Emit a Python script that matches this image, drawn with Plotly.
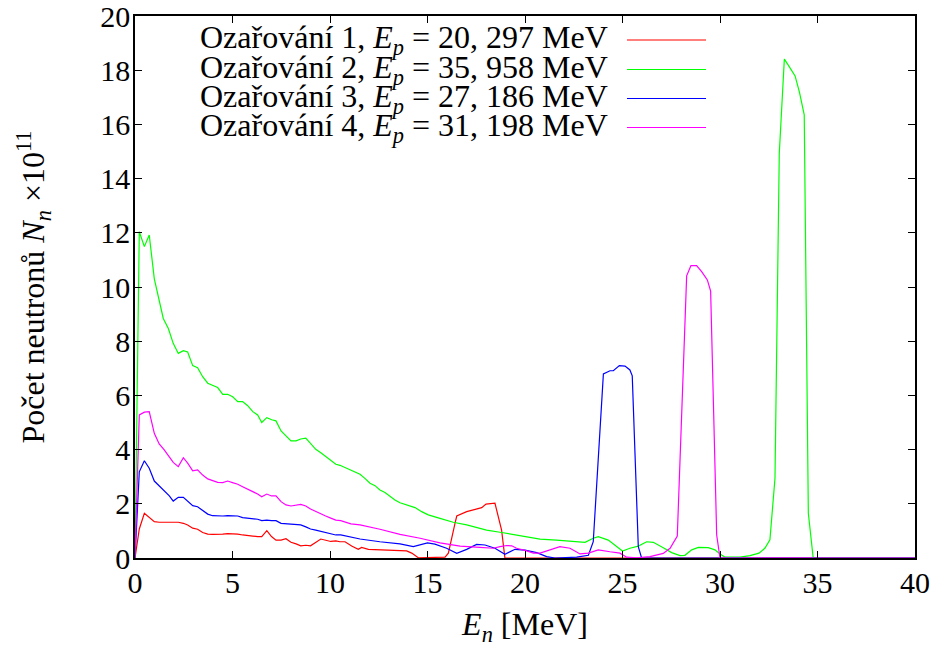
import plotly.graph_objects as go

# ---------------- data ----------------
E1 = [0, 0.22, 0.48, 0.73, 0.99, 1.24, 1.5, 1.76, 1.96, 2.22, 2.48, 2.7, 2.96, 3.21, 3.47, 3.73,
      3.98, 4.24, 4.5, 4.75, 5.0, 5.27, 5.52, 5.78, 6.04, 6.29, 6.5, 6.76, 7.0, 7.23, 7.49, 7.74,
      8.0, 8.26, 8.5, 8.76, 9.0, 9.53, 10.04, 10.3, 10.51, 10.77, 11.11, 11.45, 11.62, 11.97,
      12.56, 13.93, 14.19, 14.53, 15.9, 16.07, 16.41, 16.5, 17.01, 17.44, 17.78, 18.0, 18.46,
      18.8, 18.97, 40]
N1 = [0, 1.07, 1.65, 1.49, 1.34, 1.32, 1.32, 1.3, 1.32, 1.32, 1.28, 1.22, 1.1, 1.06, 0.94, 0.88,
      0.87, 0.87, 0.88, 0.9, 0.9, 0.88, 0.85, 0.82, 0.81, 0.79, 0.79, 1.01, 0.79, 0.66, 0.66, 0.71,
      0.58, 0.52, 0.45, 0.47, 0.45, 0.7, 0.61, 0.63, 0.6, 0.6, 0.44, 0.32, 0.39, 0.32,
      0.3, 0.26, 0.18, 0.01, 0.03, 0.18, 1.28, 1.55, 1.71, 1.8, 1.86, 1.99, 2.02,
      1.03, 0, 0]

E2 = [0, 0.22, 0.48, 0.73, 0.99, 1.19, 1.45, 1.71, 1.96, 2.22, 2.48, 2.7, 2.96, 3.21, 3.47, 3.73,
      3.98, 4.24, 4.5, 4.75, 5.01, 5.27, 5.52, 5.78, 6.04, 6.29, 6.5, 6.76, 7.01, 7.23, 7.49, 7.74,
      8.0, 8.26, 8.5, 8.76, 9.01, 9.27, 9.53, 9.78, 10.04, 10.3, 10.51, 11.03, 11.54, 11.79, 12.05,
      12.31, 12.56, 12.82, 13.08, 13.33, 13.59, 13.93, 14.36, 14.7, 15.04, 15.64, 16.32, 17.01,
      17.52, 18.03, 18.72, 19.4, 20.09, 20.77, 21.62, 22.31, 23.08, 23.5, 23.76, 24.27, 24.7, 25.0,
      25.38, 25.81, 26.24, 26.58, 27.09, 27.52, 27.95, 28.2, 28.55, 28.89, 29.4, 29.74, 30.0, 30.26,
      31.03, 31.54, 32.0, 32.3, 32.56, 32.82, 33.04, 33.3, 33.55, 33.85, 34.07, 34.32, 34.53, 34.78, 40]
N2 = [0, 12.04, 11.49, 11.92, 10.3, 9.64, 8.84, 8.47, 7.92, 7.55, 7.65, 7.6, 7.1, 7.02, 6.69, 6.45,
      6.36, 6.29, 6.04, 6.04, 5.95, 5.77, 5.77, 5.62, 5.4, 5.28, 5.0, 5.18, 5.1, 5.06, 4.69, 4.5,
      4.32, 4.32, 4.39, 4.42, 4.21, 4.01, 3.88, 3.74, 3.62, 3.46, 3.42, 3.25, 3.09, 2.94, 2.76,
      2.67, 2.51, 2.42, 2.26, 2.14, 2.04, 1.96, 1.86, 1.71, 1.59, 1.46, 1.32, 1.22,
      1.12, 1.03, 0.95, 0.86, 0.79, 0.7, 0.66, 0.63, 0.58, 0.73, 0.79, 0.66, 0.42, 0.26,
      0.36, 0.44, 0.6, 0.58, 0.38, 0.2, 0.09, 0.1, 0.3, 0.39, 0.38, 0.3, 0.15, 0.03,
      0.03, 0.09, 0.18, 0.36, 0.67, 2.94, 14.93, 18.41, 18.13, 17.79, 17.2, 16.35, 1.65, 0, 0]

E3 = [0, 0.22, 0.48, 0.73, 0.99, 1.24, 1.5, 1.76, 1.96, 2.22, 2.48, 2.7, 2.96, 3.21, 3.47, 3.73,
      3.98, 4.24, 4.5, 4.75, 5.0, 5.27, 5.52, 5.78, 6.04, 6.29, 6.5, 6.76, 7.0, 7.23, 7.49, 7.74,
      8.0, 8.5, 8.76, 9.0, 9.27, 9.53, 9.78, 10.04, 10.3, 10.55, 11.07, 11.54, 12.56, 13.59, 14.27,
      14.62, 15.0, 15.38, 15.98, 16.5, 17.01, 17.52, 17.95, 18.46, 18.97, 19.49, 20.0, 20.6, 21.11,
      21.54, 22.65, 23.25, 23.5, 24.02, 24.36, 24.53, 24.84, 25.13, 25.38, 25.5, 25.81, 25.98, 40]
N3 = [0, 3.18, 3.59, 3.31, 2.84, 2.67, 2.47, 2.29, 2.1, 2.24, 2.24, 2.08, 1.93, 1.89, 1.75, 1.62,
      1.56, 1.55, 1.55, 1.56, 1.56, 1.55, 1.49, 1.47, 1.47, 1.43, 1.38, 1.4, 1.38, 1.38, 1.28, 1.26,
      1.26, 1.22, 1.15, 1.07, 1.03, 0.99, 0.94, 0.9, 0.85, 0.85, 0.77, 0.7, 0.6, 0.52, 0.42,
      0.48, 0.56, 0.51, 0.36, 0.17, 0.32, 0.5, 0.48, 0.36, 0.14, 0.32, 0.29, 0.2, 0.05,
      0.0, 0.03, 0.1, 0.6, 6.79, 6.91, 6.91, 7.1, 7.08, 6.94, 6.72, 0.42, 0, 0]

E4 = [0, 0.22, 0.48, 0.73, 0.99, 1.24, 1.5, 1.71, 1.96, 2.22, 2.48, 2.7, 2.96, 3.21, 3.47, 3.73,
      3.98, 4.24, 4.5, 4.75, 5.0, 5.27, 5.52, 5.78, 6.04, 6.29, 6.5, 6.76, 7.0, 7.23, 7.49, 7.74,
      8.0, 8.5, 8.76, 9.0, 9.27, 9.53, 9.78, 10.04, 10.3, 10.55, 11.07, 11.54, 12.56, 13.59, 14.62,
      15.64, 16.67, 17.69, 18.38, 18.72, 19.06, 19.32, 19.57, 20.09, 20.43, 20.77, 21.28, 21.79,
      22.31, 22.82, 23.25, 23.76, 24.36, 24.87, 25.21, 25.73, 26.41, 27.09, 27.44, 27.81, 28.29,
      28.51, 28.8, 29.06, 29.35, 29.52, 29.83, 30.0, 40]
N4 = [0, 5.28, 5.38, 5.4, 4.6, 4.21, 3.99, 3.8, 3.53, 3.37, 3.7, 3.5, 3.22, 3.25, 3.06, 2.92,
      2.86, 2.79, 2.78, 2.84, 2.78, 2.72, 2.63, 2.55, 2.45, 2.36, 2.26, 2.36, 2.29, 2.29, 2.08, 1.96,
      1.92, 1.98, 1.92, 1.81, 1.71, 1.62, 1.55, 1.47, 1.4, 1.38, 1.26, 1.22, 1.06, 0.87, 0.73,
      0.56, 0.44, 0.39, 0.36, 0.42, 0.46, 0.45, 0.36, 0.26, 0.18, 0.18, 0.3, 0.42,
      0.36, 0.15, 0.18, 0.3, 0.23, 0.18, 0.03, 0.01, 0.05, 0.17, 0.36, 0.81, 10.41,
      10.79, 10.79, 10.57, 10.26, 9.85, 0.85, 0, 0]

series_x = [E1, E2, E3, E4]
series_y = [N1, N2, N3, N4]
labels = [
    "Ozařování 1, <i>E<sub>p</sub></i> = 20, 297 MeV",
    "Ozařování 2, <i>E<sub>p</sub></i> = 35, 958 MeV",
    "Ozařování 3, <i>E<sub>p</sub></i> = 27, 186 MeV",
    "Ozařování 4, <i>E<sub>p</sub></i> = 31, 198 MeV",
]
colors = ["#ff0000", "#00ff00", "#0000ff", "#ff00ff"]

x_ticks = [0, 5, 10, 15, 20, 25, 30, 35, 40]
y_ticks = [0, 2, 4, 6, 8, 10, 12, 14, 16, 18, 20]

FONT = "Liberation Serif"
FS = 30       # tick labels
FS_LEG = 32   # legend text
FS_TIT = 32   # axis titles
W, H = 939, 651
ML, MR, MT, MB = 135, 24, 16, 93

fig = go.Figure()
for ex, ny, lab, col in zip(series_x, series_y, labels, colors):
    fig.add_trace(go.Scatter(x=ex, y=ny, mode="lines", name=lab,
                             line=dict(color=col, width=1.2), showlegend=False))

# custom legend: text on the left (right aligned), line sample on the right
pw = W - ML - MR
ph = H - MT - MB
def px_to_paper_x(px):
    return (px - ML) / pw
def py_to_paper_y(py):
    return 1 - (py - MT) / ph

row_y = [40, 69.5, 98.5, 127.5]
for lab, col, ry in zip(labels, colors, row_y):
    fig.add_annotation(x=px_to_paper_x(610), y=py_to_paper_y(ry), xref="paper", yref="paper",
                       text=lab, showarrow=False, xanchor="right", yanchor="middle",
                       font=dict(family=FONT, size=FS_LEG, color="black"))
    fig.add_shape(type="line", xref="paper", yref="paper",
                  x0=px_to_paper_x(627), x1=px_to_paper_x(706),
                  y0=py_to_paper_y(ry), y1=py_to_paper_y(ry),
                  line=dict(color=col, width=1.2))

axis_common = dict(showline=True, linecolor="black", linewidth=1.5, mirror="ticks",
                   ticks="inside", ticklen=7, tickwidth=1.2, tickcolor="black",
                   showgrid=False, zeroline=False, automargin=False,
                   ticklabeloverflow="allow",
                   tickfont=dict(family=FONT, size=FS, color="black"))

fig.update_layout(
    width=W, height=H,
    margin=dict(l=ML, r=MR, t=MT, b=MB, pad=0, autoexpand=False),
    paper_bgcolor="white", plot_bgcolor="white",
    xaxis=dict(range=[0, 40], tickvals=x_ticks, ticktext=[str(v) for v in x_ticks],
               title=dict(text="<i>E<sub>n</sub></i> [MeV]", font=dict(family=FONT, size=FS_TIT, color="black"),
                          standoff=15),
               ticklabelstandoff=-3, **axis_common),
    yaxis=dict(range=[0, 20], tickvals=y_ticks, ticktext=[str(v) for v in y_ticks],
               title=dict(text="Počet neutronů <i>N<sub>n</sub></i> ×10<sup>11</sup>",
                          font=dict(family=FONT, size=FS_TIT, color="black"), standoff=46),
               ticklabelstandoff=-3, **axis_common),
)

fig.write_html("out.html")
